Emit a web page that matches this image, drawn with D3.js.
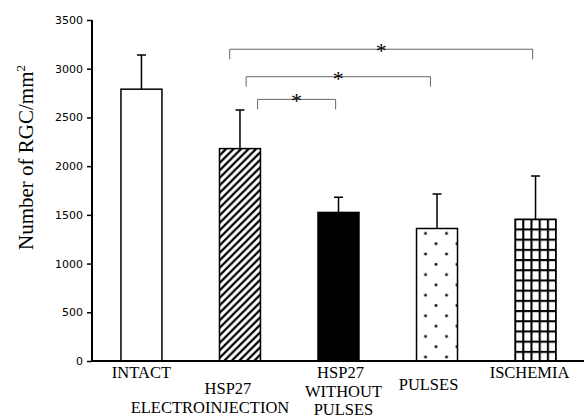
<!DOCTYPE html>
<html>
<head>
<meta charset="utf-8">
<script src="https://cdn.jsdelivr.net/npm/d3@7/dist/d3.min.js"></script>
<style>
  body { margin: 0; background: #fff; }
  svg { display: block; }
  .tick text { font-family: "DejaVu Sans", sans-serif; font-size: 11px; fill: #000; }
  .lbl { font-family: "Liberation Serif", "Times New Roman", serif; font-size: 16.5px; fill: #000; }
</style>
</head>
<body>
<script>
var w = 584;
var h = 418;

// groups, mean RGC density and error
var groups = ["INTACT", "HSP27 ELECTROINJECTION", "HSP27 WITHOUT PULSES", "PULSES", "ISCHEMIA"];
var labelLines = [["INTACT"], ["HSP27", "ELECTROINJECTION"], ["HSP27", "WITHOUT", "PULSES"], ["PULSES"], ["ISCHEMIA"]];
var means = [2790, 2180, 1525, 1360, 1455];
var errors = [350, 395, 155, 355, 445];
var fills = ["white", "url(#hatch)", "black", "url(#dots)", "url(#grid)"];
var yTicks = [0, 500, 1000, 1500, 2000, 2500, 3000, 3500];
// significance comparisons (group index pairs)
var comparisons = [[1, 4], [1, 3], [1, 2]];

var svg = d3.select("body")
    .append("svg")
    .attr("width", w)
    .attr("height", h);

var xScale = d3.scaleBand()
    .domain(groups)
    .range([92, 585])
    .paddingInner(0.584)
    .paddingOuter(0.294);

var yScale = d3.scaleLinear()
    .domain([0, 3500])
    .range([361, 20]);

var bw = xScale.bandwidth();
var defs = svg.append("defs");

// diagonal hatch
var hatch = defs.append("pattern")
    .attr("id", "hatch")
    .attr("patternUnits", "userSpaceOnUse")
    .attr("width", 7.5)
    .attr("height", 7.5);
hatch.append("path")
    .attr("d", "M0,7.5 L7.5,0 M-1,1 L1,-1 M6.5,8.5 L8.5,6.5")
    .attr("stroke", "black")
    .attr("stroke-width", 2.2);

// dots, staggered
var xDots = xScale(groups[3]);
var dots = defs.append("pattern")
    .attr("id", "dots")
    .attr("patternUnits", "userSpaceOnUse")
    .attr("x", xDots + 7)
    .attr("y", yScale(means[3]) + 3)
    .attr("width", 21)
    .attr("height", 20.6);
dots.append("circle").attr("cx", 2).attr("cy", 2).attr("r", 1.4).attr("fill", "black");
dots.append("circle").attr("cx", 12.5).attr("cy", 12.3).attr("r", 1.4).attr("fill", "black");

// square grid
var gw = bw / 5;
var grid = defs.append("pattern")
    .attr("id", "grid")
    .attr("patternUnits", "userSpaceOnUse")
    .attr("x", xScale(groups[4]) - 1)
    .attr("y", yScale(means[4]) - 1)
    .attr("width", gw)
    .attr("height", 10.2);
grid.append("path")
    .attr("d", "M1,0 V10.2 M0,1 H" + gw)
    .attr("stroke", "black")
    .attr("stroke-width", 2.2)
    .attr("fill", "none");

// y axis
var yAxis = d3.axisLeft(yScale)
    .tickValues(yTicks)
    .tickFormat(d3.format("d"))
    .tickSize(5)
    .tickPadding(4);

var gy = svg.append("g")
    .attr("transform", "translate(92,0)")
    .call(yAxis);
gy.select(".domain").attr("stroke-width", 2).attr("d", "M0,20V362");
gy.selectAll(".tick line").attr("stroke-width", 1.5);

// bars
svg.selectAll("rect.bar")
    .data(groups)
    .enter()
    .append("rect")
    .attr("class", "bar")
    .attr("x", function(d) { return xScale(d); })
    .attr("y", function(d, i) { return yScale(means[i]); })
    .attr("width", bw)
    .attr("height", function(d, i) { return yScale(0) - yScale(means[i]); })
    .attr("fill", function(d, i) { return fills[i]; })
    .attr("stroke", "black")
    .attr("stroke-width", 1.5);

// error bars
svg.selectAll("path.err")
    .data(groups)
    .enter()
    .append("path")
    .attr("class", "err")
    .attr("d", function(d, i) {
      var cx = xScale(d) + bw / 2;
      var y0 = yScale(means[i]);
      var y1 = yScale(means[i] + errors[i]);
      return "M" + cx + "," + y0 + "V" + y1 + "M" + (cx - 4.5) + "," + y1 + "H" + (cx + 4.5);
    })
    .attr("stroke", "black")
    .attr("stroke-width", 1.5)
    .attr("fill", "none");

// x axis line
svg.append("line")
    .attr("x1", 91)
    .attr("y1", yScale(0))
    .attr("x2", w)
    .attr("y2", yScale(0))
    .attr("stroke", "black")
    .attr("stroke-width", 2);

// significance brackets
var bracketLevels = [3200, 2918, 2685];
var bracketEnds = [[0.25, 0.43], [0.65, 0.34], [0.93, 0.43]];

comparisons.forEach(function(c, k) {
  var xa = xScale(groups[c[0]]) + bw * bracketEnds[k][0];
  var xb = xScale(groups[c[1]]) + bw * bracketEnds[k][1];
  var yb = yScale(bracketLevels[k]);
  svg.append("path")
    .attr("d", "M" + xa + "," + (yb + 10) + "V" + yb + "H" + xb + "V" + (yb + 10))
    .attr("stroke", "#666")
    .attr("stroke-width", 1)
    .attr("fill", "none");
  svg.append("text")
    .attr("class", "lbl")
    .attr("text-anchor", "middle")
    .attr("x", (xa + xb) / 2)
    .attr("y", yb + 9)
    .style("font-size", "22px")
    .text("*");
});

// category labels
var labelDx = [[0], [-12, -30], [2, 5, 5], [-8.5], [-6]];
var labelY = [[377.5], [394, 413], [378, 397, 414.5], [390], [378]];

labelLines.forEach(function(lines, i) {
  var cx = xScale(groups[i]) + bw / 2;
  lines.forEach(function(t, j) {
    svg.append("text")
      .attr("class", "lbl")
      .attr("text-anchor", "middle")
      .attr("x", cx + labelDx[i][j])
      .attr("y", labelY[i][j])
      .text(t);
  });
});

// y title
var title = svg.append("text")
    .attr("class", "lbl")
    .attr("transform", "translate(33,250) rotate(-90)")
    .style("font-size", "21px");
title.append("tspan").text("Number of RGC/mm");
title.append("tspan")
    .attr("dy", -8)
    .style("font-size", "13px")
    .text("2");
</script>
</body>
</html>
